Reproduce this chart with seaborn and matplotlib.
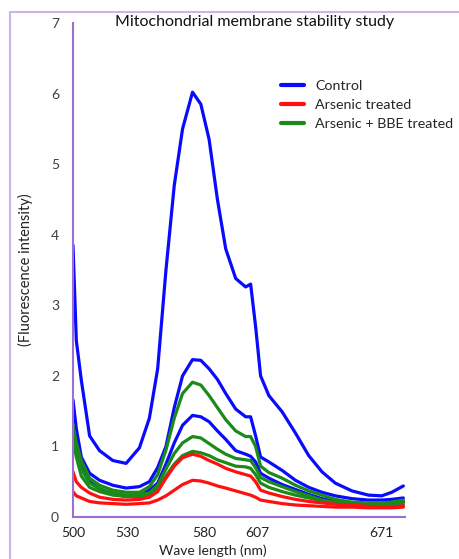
import numpy as np
import pandas as pd
import matplotlib
matplotlib.use("Agg")
import matplotlib.pyplot as plt
from matplotlib.lines import Line2D
from matplotlib.ticker import MultipleLocator
import seaborn as sns

# position along the (category) wavelength axis, 0..100
pos = [0, 1, 2.5, 5, 8, 12, 16, 20, 23, 25.5, 28, 30.5, 33, 36, 38.5, 41, 43.5, 46,
       49, 52, 53.5, 55, 56.5, 59, 63, 67, 71, 75, 79, 84, 89, 93, 96, 99.5]

control_1 = [3.85, 2.5, 1.94, 1.15, 0.94, 0.8, 0.76, 0.98, 1.4, 2.1, 3.5, 4.7, 5.5, 6.02, 5.85, 5.35,
             4.5, 3.8, 3.38, 3.26, 3.3, 2.7, 2.0, 1.72, 1.49, 1.19, 0.87, 0.64, 0.48, 0.37, 0.31, 0.3, 0.35, 0.44]
control_2 = [1.66, 1.25, 0.85, 0.62, 0.52, 0.45, 0.41, 0.43, 0.5, 0.7, 1.0, 1.55, 2.0, 2.23, 2.22, 2.1,
             1.95, 1.75, 1.53, 1.42, 1.42, 1.15, 0.85, 0.78, 0.66, 0.52, 0.42, 0.35, 0.3, 0.26, 0.24, 0.24, 0.25, 0.27]
control_3 = [1.1, 0.95, 0.72, 0.5, 0.4, 0.33, 0.29, 0.3, 0.38, 0.48, 0.75, 1.05, 1.3, 1.44, 1.42, 1.35,
             1.22, 1.1, 0.94, 0.89, 0.86, 0.78, 0.62, 0.55, 0.46, 0.39, 0.32, 0.26, 0.22, 0.2, 0.18, 0.18, 0.19, 0.22]
arsenic_1 = [0.64, 0.5, 0.42, 0.34, 0.28, 0.25, 0.24, 0.25, 0.28, 0.36, 0.55, 0.72, 0.84, 0.89, 0.86, 0.8,
             0.75, 0.69, 0.64, 0.6, 0.58, 0.5, 0.38, 0.34, 0.29, 0.25, 0.22, 0.2, 0.18, 0.17, 0.15, 0.14, 0.14, 0.16]
arsenic_2 = [0.36, 0.3, 0.27, 0.22, 0.2, 0.19, 0.18, 0.19, 0.2, 0.24, 0.3, 0.38, 0.46, 0.52, 0.51, 0.48,
             0.44, 0.41, 0.37, 0.33, 0.31, 0.28, 0.24, 0.22, 0.19, 0.17, 0.16, 0.15, 0.14, 0.14, 0.13, 0.13, 0.13, 0.14]
bbe_1 = [1.3, 1.05, 0.8, 0.55, 0.45, 0.38, 0.35, 0.35, 0.43, 0.6, 0.95, 1.4, 1.75, 1.91, 1.87, 1.72,
         1.55, 1.38, 1.22, 1.14, 1.14, 1.0, 0.72, 0.63, 0.55, 0.45, 0.37, 0.31, 0.25, 0.21, 0.2, 0.2, 0.21, 0.24]
bbe_2 = [1.23, 0.95, 0.68, 0.48, 0.4, 0.34, 0.31, 0.32, 0.34, 0.45, 0.68, 0.9, 1.05, 1.14, 1.12, 1.04,
         0.96, 0.89, 0.83, 0.81, 0.8, 0.7, 0.56, 0.5, 0.43, 0.36, 0.3, 0.24, 0.21, 0.18, 0.17, 0.17, 0.18, 0.2]
bbe_3 = [1.09, 0.85, 0.58, 0.42, 0.36, 0.31, 0.29, 0.29, 0.31, 0.4, 0.58, 0.75, 0.87, 0.93, 0.91, 0.87,
         0.81, 0.77, 0.72, 0.71, 0.69, 0.6, 0.48, 0.42, 0.36, 0.31, 0.27, 0.23, 0.2, 0.18, 0.17, 0.17, 0.17, 0.18]

tick_pos = [0, 16.5, 39.5, 55.6, 93]
tick_labels = ["500", "530", "580", "607", "671"]

groups = ["Control", "Arsenic treated", "Arsenic + BBE treated"]
colors = {"Control": "#0a0aff", "Arsenic treated": "#ff1010", "Arsenic + BBE treated": "#1b8a1b"}

curves = [("Control", "c1", control_1), ("Control", "c2", control_2), ("Control", "c3", control_3),
          ("Arsenic + BBE treated", "b1", bbe_1), ("Arsenic + BBE treated", "b2", bbe_2),
          ("Arsenic + BBE treated", "b3", bbe_3),
          ("Arsenic treated", "a1", arsenic_1), ("Arsenic treated", "a2", arsenic_2)]

rows = []
for g, cid, vals in curves:
    for p, v in zip(pos, vals):
        rows.append({"pos": p, "value": v, "group": g, "curve": cid})
df = pd.DataFrame(rows)

sns.set_style("white")
plt.rcParams['font.family'] = ['Lato', 'DejaVu Sans']

axis_col = "#9a6fd0"
fig = plt.figure(figsize=(4.6, 5.59), dpi=100)
ax = fig.add_axes([73 / 460, 1 - 517 / 559, 332 / 460, 494 / 559])

sns.lineplot(data=df, x="pos", y="value", hue="group", units="curve", estimator=None,
             palette=colors, linewidth=2.3, ax=ax, legend=False, sort=False)

ax.set_xlim(0, 100)
ax.set_ylim(0, 7)
ax.set_yticks(range(8))
ax.set_xticks(tick_pos)
ax.set_xticklabels(tick_labels)
ax.xaxis.set_minor_locator(MultipleLocator(0.8))
for s in ["top", "right"]:
    ax.spines[s].set_visible(False)
for s in ["left", "bottom"]:
    ax.spines[s].set_color(axis_col)
    ax.spines[s].set_linewidth(1.5)
ax.tick_params(axis="y", which="major", length=4, width=1.2, color=axis_col, direction="out",
               labelsize=10, labelcolor="#404040", pad=6)
ax.tick_params(axis="x", which="major", length=3, width=1.0, color=axis_col, direction="out",
               labelsize=10, labelcolor="#222222", pad=4)
ax.tick_params(axis="x", which="minor", length=3, width=1.0, color=axis_col, direction="out")

ax.set_xlabel("Wave length (nm)", fontsize=10, color="#222222")
ax.xaxis.set_label_coords((213 - 73) / 332, -0.055)
ax.set_ylabel("(Fluorescence intensity)", fontsize=10.5, color="#222222")
ax.yaxis.set_label_coords(-0.12, 0.5)
fig.text(255 / 460, 1 - 22 / 559, "Mitochondrial membrane stability study", ha="center", va="center",
         fontsize=11.5, color="#111111")

handles = [Line2D([0], [0], color=colors[g], lw=3) for g in groups]
ax.legend(handles, groups, loc="upper left", bbox_to_anchor=((268 - 73) / 332, (517 - 67) / 494),
          frameon=False, fontsize=10.3, handlelength=1.6, handletextpad=0.8, labelspacing=0.5)

frame_col = "#c9b6e6"
fig.add_artist(Line2D([10 / 460, 10 / 460], [0, 1 - 12 / 559], color=frame_col, lw=1.5))
fig.add_artist(Line2D([10 / 460, 1], [1 - 12 / 559, 1 - 12 / 559], color=frame_col, lw=1.5))

fig.savefig("out.png", dpi=100)
